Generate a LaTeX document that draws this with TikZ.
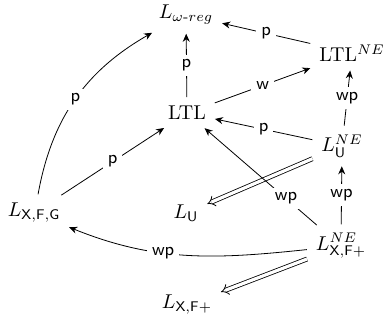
\documentclass[tikz,border=0pt]{standalone}
\usepackage{amsmath}
\usetikzlibrary{arrows.meta}
\begin{document}
\begin{tikzpicture}[x=1pt,y=1pt,
  lbl/.style={fill=white,inner sep=2.5pt,font=\small\sffamily},
  arr/.style={-{Stealth[length=4pt,width=3.5pt]},shorten >=1pt,shorten <=1pt},
  impl/.style={double,double distance=1.6pt,-{Implies},shorten >=1pt,shorten <=1pt}]
\useasboundingbox (0,0) rectangle (192.5,-164);
\node (Lw) at (93,-7.5) {$L_{\omega\text{-}reg}$};
\node (LTL) at (93.5,-56.5) {LTL};
\node (LTLNE) at (176,-26.5) {LTL$^{NE}$};
\node (LUNE) at (171,-73) {$L_{\mathsf{U}}^{NE}$};
\node (LXFG) at (17,-106.5) {$L_{\mathsf{X,F,G}}$};
\node (LU) at (93,-106.5) {$L_{\mathsf{U}}$};
\node (LXFNE) at (170.5,-123) {$L_{\mathsf{X,F}{+}}^{NE}$};
\node (LXF) at (93.5,-152.5) {$L_{\mathsf{X,F}{+}}$};
\draw[arr] (LTL) -- node[lbl]{p} (Lw);
\draw[arr] (LTLNE) -- node[lbl]{p} (Lw);
\draw[arr] (LTL) -- node[lbl]{w} (LTLNE);
\draw[arr] (LUNE) -- node[lbl]{wp} (LTLNE);
\draw[arr] (LUNE) -- node[lbl]{p} (LTL);
\draw[impl] (LUNE) -- (LU);
\draw[arr] (LXFNE) -- node[lbl]{wp} (LUNE);
\draw[arr] (LXFNE) -- node[lbl,pos=0.28]{wp} (LTL);
\draw[arr] (LXFNE) to[out=186,in=-22] node[lbl,pos=0.6]{wp} (LXFG);
\draw[impl] (LXFNE) -- (LXF);
\draw[arr] (LXFG) -- node[lbl]{p} (LTL);
\draw[arr] (LXFG) to[bend left=25] node[lbl]{p} (Lw);
\end{tikzpicture}
\end{document}
